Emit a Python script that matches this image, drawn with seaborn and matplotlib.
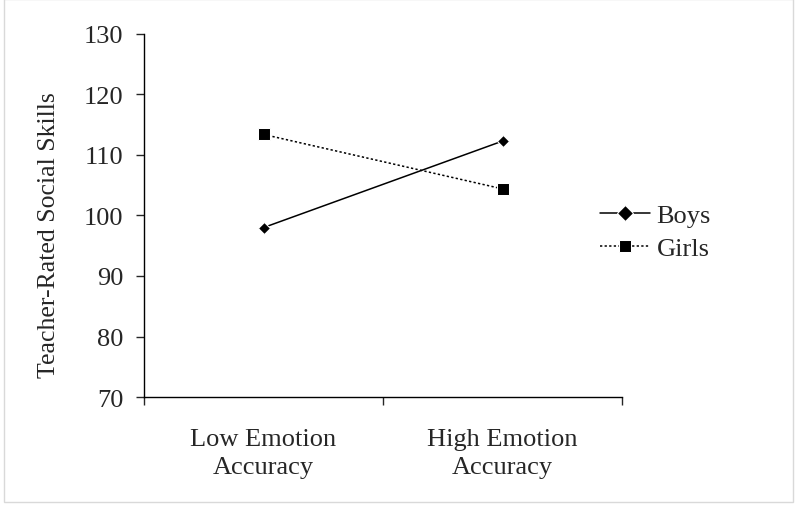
import pandas as pd
import seaborn as sns
import matplotlib.pyplot as plt
from matplotlib.patches import Rectangle

groups = ["Low Emotion\nAccuracy", "High Emotion\nAccuracy"]
boys = [98.0, 112.3]
girls = [113.4, 104.4]

data = pd.DataFrame({
    "pos": [0, 1, 0, 1],
    "score": boys + girls,
    "sex": ["Boys", "Boys", "Girls", "Girls"],
})

sns.set_style("ticks")
plt.rcParams['font.family'] = ['Liberation Serif', 'DejaVu Serif']

fig = plt.figure(figsize=(8, 5.1), dpi=100)
ax = fig.add_axes([0.18, 0.2196, 0.5975, 0.7118])

sns.lineplot(data=data, x="pos", y="score", hue="sex", style="sex",
             palette={"Boys": "black", "Girls": "black"},
             markers={"Boys": "D", "Girls": "s"},
             dashes={"Boys": "", "Girls": (1.5, 1.5)},
             markersize=8, linewidth=1.1, ax=ax)

# smaller diamond for boys
ax.lines[0].set_markersize(6.5)

ax.set_xlim(-0.5, 1.5)
ax.set_ylim(70, 130)
ax.set_yticks(range(70, 131, 10))
ax.set_xticks([-0.5, 0.5, 1.5])
ax.set_xticklabels([])
ax.set_xticks([0, 1], minor=True)
ax.set_xticklabels(groups, minor=True, fontsize=19, linespacing=1.35)
ax.tick_params(axis="x", which="minor", length=0, pad=22)
ax.tick_params(axis="x", which="major", length=6, width=1, direction="out")
ax.tick_params(axis="y", length=6, width=1, direction="out", labelsize=19, pad=9)
for s in ["top", "right"]:
    ax.spines[s].set_visible(False)
for s in ["left", "bottom"]:
    ax.spines[s].set_linewidth(1)
    ax.spines[s].set_color("black")

ax.set_xlabel("")
ax.set_ylabel("Teacher-Rated Social Skills", fontsize=18.5)
ax.yaxis.set_label_coords(-0.175, 0.449)

leg = ax.legend(loc="center left", bbox_to_anchor=(0.904, 0.455), frameon=False,
                fontsize=19, handlelength=1.9, handletextpad=0.25, labelspacing=0.35)

fig.patches.append(Rectangle((4 / 800, 7 / 510), 789 / 800, 503 / 510,
                             transform=fig.transFigure, fill=False,
                             edgecolor="#d9d9d9", linewidth=1))

plt.savefig("out.png", dpi=100)
